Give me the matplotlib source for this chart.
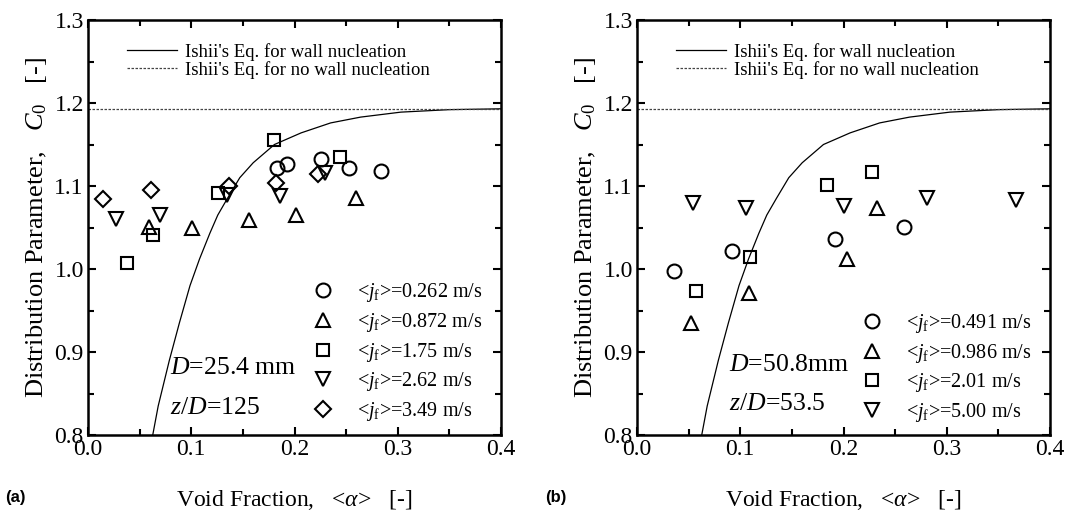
import matplotlib
matplotlib.use('Agg')
import matplotlib.pyplot as plt
from matplotlib.lines import Line2D
from matplotlib.ticker import MultipleLocator

plt.rcParams['font.family'] = ['Liberation Serif', 'DejaVu Serif']
plt.rcParams['mathtext.fontset'] = 'custom'
plt.rcParams['mathtext.rm'] = 'Liberation Serif'
plt.rcParams['mathtext.it'] = 'Liberation Serif:italic'

# Ishii's eq. curve
curve_alpha = [0.0627, 0.068, 0.0788, 0.0885, 0.0988, 0.108, 0.118, 0.1257, 0.135, 0.147,
               0.16, 0.1806, 0.2064, 0.235, 0.264, 0.303, 0.35, 0.40]
curve_c0 = [0.800, 0.835, 0.890, 0.935, 0.980, 1.012, 1.043, 1.065, 1.085, 1.110,
            1.128, 1.150, 1.164, 1.176, 1.183, 1.189, 1.192, 1.193]
no_wall_c0 = 1.193

# (a) D = 25.4 mm
a_labels = ['0.262', '0.872', '1.75', '2.62', '3.49']
a_alpha_0262 = [0.183, 0.193, 0.226, 0.253, 0.284]
a_c0_0262 = [1.122, 1.126, 1.133, 1.122, 1.118]
a_alpha_0872 = [0.0595, 0.101, 0.156, 0.2016, 0.260]
a_c0_0872 = [1.051, 1.050, 1.059, 1.065, 1.086]
a_alpha_175 = [0.0378, 0.0627, 0.1257, 0.1806, 0.2436]
a_c0_175 = [1.007, 1.041, 1.092, 1.155, 1.135]
a_alpha_262 = [0.027, 0.070, 0.135, 0.186, 0.230]
a_c0_262 = [1.060, 1.065, 1.089, 1.088, 1.116]
a_alpha_349 = [0.0142, 0.061, 0.137, 0.182, 0.2225]
a_c0_349 = [1.084, 1.095, 1.100, 1.104, 1.115]

# (b) D = 50.8 mm
b_labels = ['0.491', '0.986', '2.01', '5.00']
b_alpha_0491 = [0.0358, 0.0923, 0.192, 0.259]
b_c0_0491 = [0.997, 1.022, 1.036, 1.051]
b_alpha_0986 = [0.052, 0.1087, 0.203, 0.232]
b_c0_0986 = [0.935, 0.971, 1.012, 1.074]
b_alpha_201 = [0.057, 0.109, 0.184, 0.228]
b_c0_201 = [0.974, 1.014, 1.101, 1.117]
b_alpha_500 = [0.0545, 0.106, 0.2007, 0.281, 0.367]
b_c0_500 = [1.079, 1.074, 1.076, 1.086, 1.083]

markers = ['o', '^', 's', 'v', 'D']
msizes = [10, 10, 9, 10, 8]

fig = plt.figure(figsize=(10.75, 5.14), dpi=100)
ax1 = fig.add_axes([88 / 1075, 79 / 514, 413 / 1075, 415 / 514])
ax2 = fig.add_axes([637 / 1075, 79 / 514, 413 / 1075, 415 / 514])


def setup(ax, series, labels, note1, note2, note_xy, leg_xy, letter, letter_x):
    ax.plot(curve_alpha, curve_c0, color='black', lw=0.9)
    ax.plot([0.0, 0.4], [no_wall_c0, no_wall_c0], color='#444444', lw=0.9, ls=(0, (2, 1.2)))
    handles = []
    for (xs, ys), m, ms, lab in zip(series, markers, msizes, labels):
        ax.plot(xs, ys, ls='none', marker=m, ms=ms, mfc='none', mec='black', mew=1.5)
        handles.append(Line2D([], [], ls='none', marker=m, ms=ms, mfc='none', mec='black', mew=1.5,
                              label=r'<$j_{\mathrm{f}}$>=' + lab + ' m/s'))
    ax.set_xlim(0.0, 0.4)
    ax.set_ylim(0.8, 1.3)
    ax.xaxis.set_major_locator(MultipleLocator(0.1))
    ax.xaxis.set_minor_locator(MultipleLocator(0.05))
    ax.yaxis.set_major_locator(MultipleLocator(0.1))
    ax.yaxis.set_minor_locator(MultipleLocator(0.05))
    ax.xaxis.set_major_formatter(lambda v, p: f'{v:.1f}')
    ax.yaxis.set_major_formatter(lambda v, p: f'{v:.1f}')
    ax.tick_params(which='both', direction='in', top=True, right=True, width=1.5, labelsize=17, pad=3)
    ax.tick_params(which='major', length=5.5)
    ax.tick_params(which='minor', length=4)
    for s in ax.spines.values():
        s.set_linewidth(1.8)
    ax.set_xlabel(r'Void Fraction,   <$\alpha$>   [-]', fontsize=17, labelpad=20)
    ax.set_ylabel(r'Distribution Parameter,   $C_{0}$   [-]', fontsize=19, labelpad=4)

    line_handles = [Line2D([], [], color='black', lw=0.9, label="Ishii's Eq. for wall nucleation"),
                    Line2D([], [], color='#444444', lw=0.9, ls=(0, (2, 1.2)),
                           label="Ishii's Eq. for no wall nucleation")]
    leg1 = ax.legend(handles=line_handles, loc='upper left', bbox_to_anchor=(0.094, 0.945),
                     frameon=False, fontsize=13.5, handlelength=2.7, handletextpad=0.4,
                     labelspacing=0.0, borderpad=0, borderaxespad=0)
    ax.add_artist(leg1)
    ax.legend(handles=handles, loc='upper left', bbox_to_anchor=leg_xy, frameon=False,
              fontsize=14.5, handlelength=1.0, handletextpad=1.2, labelspacing=0.33,
              borderpad=0, borderaxespad=0)

    ax.text(note_xy[0], note_xy[1], note1, transform=ax.transAxes, fontsize=18.5, va='center')
    ax.text(note_xy[0], note_xy[1] - 0.095, note2, transform=ax.transAxes, fontsize=18.5, va='center')
    fig.text(letter_x, 0.033, letter, fontsize=12, fontweight='bold',
             family=['Liberation Sans', 'DejaVu Sans'], va='center')


setup(ax1,
      [(a_alpha_0262, a_c0_0262), (a_alpha_0872, a_c0_0872), (a_alpha_175, a_c0_175),
       (a_alpha_262, a_c0_262), (a_alpha_349, a_c0_349)],
      a_labels, r'$D$=25.4 mm', r'$z/D$=125', (0.199, 0.161), (0.545, 0.37), '(a)', 0.005)
setup(ax2,
      [(b_alpha_0491, b_c0_0491), (b_alpha_0986, b_c0_0986), (b_alpha_201, b_c0_201),
       (b_alpha_500, b_c0_500)],
      b_labels, r'$D$=50.8mm', r'$z/D$=53.5', (0.223, 0.169), (0.545, 0.296), '(b)', 0.507)

fig.savefig('out.png', dpi=100)
